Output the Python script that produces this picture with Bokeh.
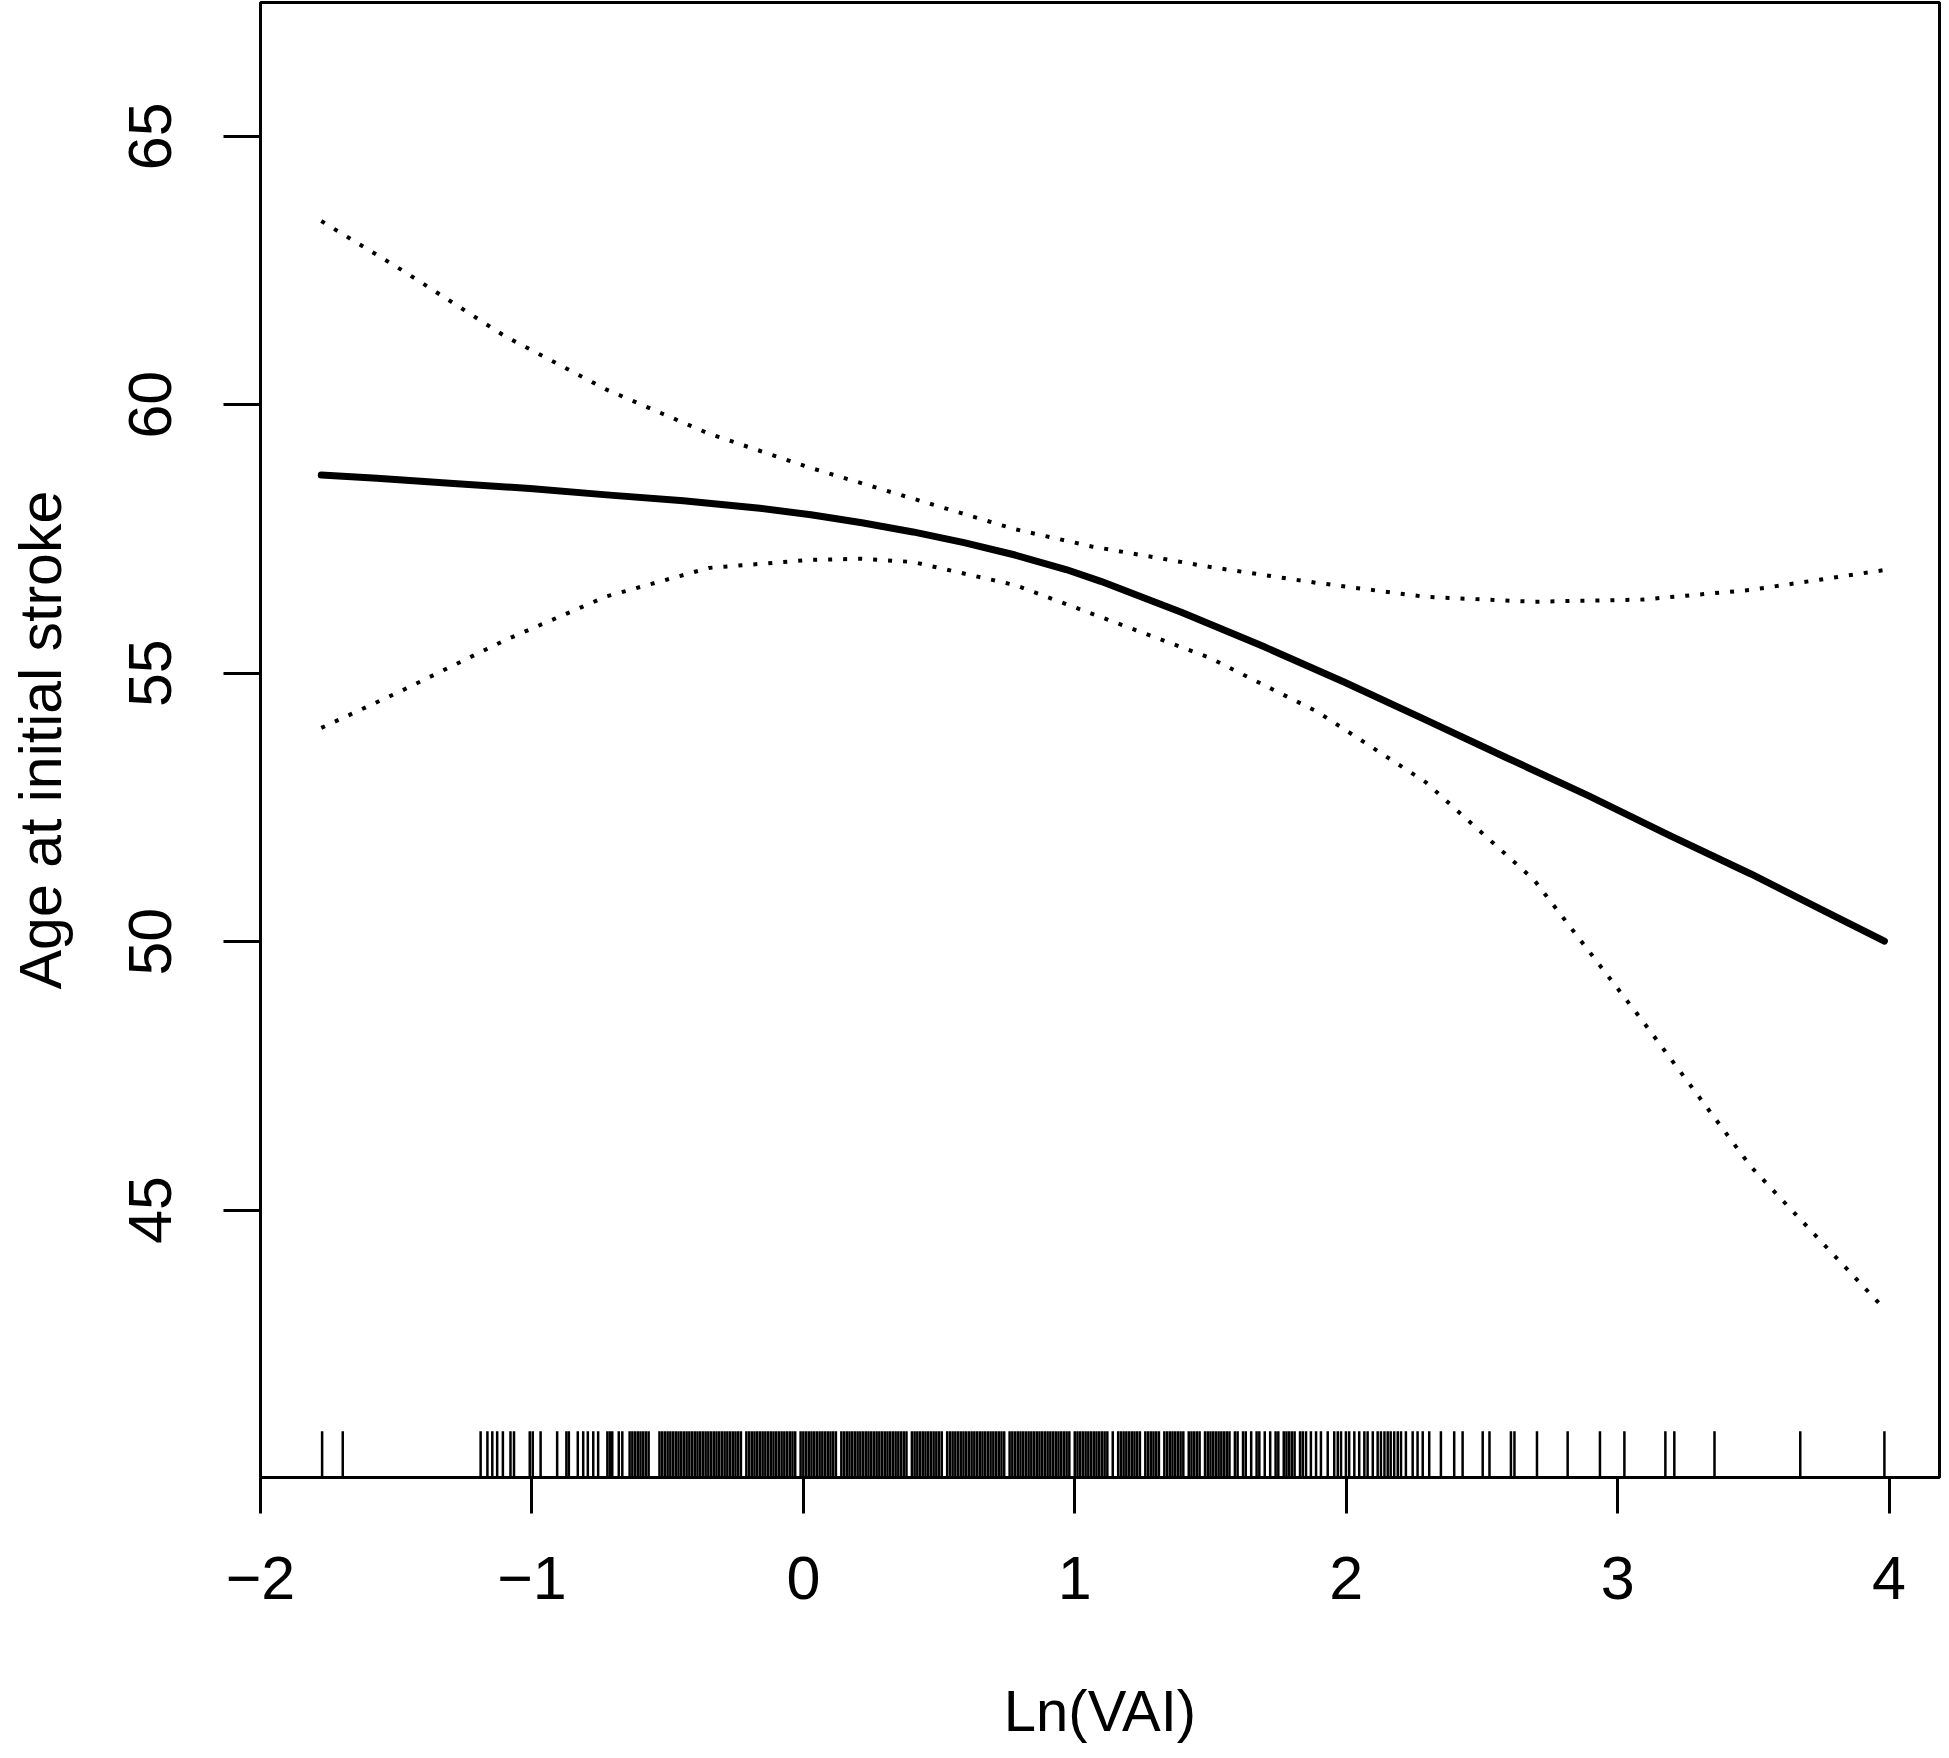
from bokeh.plotting import figure
from bokeh.models import Range1d, FixedTicker
from bokeh.embed import file_html
from bokeh.resources import INLINE

# ---------------- data ----------------
X_TICKS = [-2, -1, 0, 1, 2, 3, 4]
X_TICK_LABELS = ["\u22122", "\u22121", "0", "1", "2", "3", "4"]
Y_TICKS = [45, 50, 55, 60, 65]
Y_TICK_LABELS = ["45", "50", "55", "60", "65"]

X_LABEL = "Ln(VAI)"
Y_LABEL = "Age at initial stroke"

fit_x = [-1.776, -1.571, -1.289, -1.007, -0.725, -0.442, -0.160, 0.028, 0.216, 0.404,
         0.592, 0.780, 0.968, 1.096, 1.395, 1.694, 1.994, 2.293, 2.593, 2.892,
         3.191, 3.491, 3.790, 3.983]
fit_y = [58.69, 58.63, 58.53, 58.44, 58.32, 58.21, 58.07, 57.95, 57.80, 57.63,
         57.43, 57.20, 56.93, 56.71, 56.13, 55.50, 54.83, 54.13, 53.42, 52.72,
         51.98, 51.26, 50.50, 50.01]

upper_x = [-1.776, -1.477, -1.101, -0.725, -0.348, 0.028, 0.404, 0.780, 1.062, 1.495,
           1.894, 2.293, 2.692, 3.091, 3.491, 3.983]
upper_y = [63.42, 62.50, 61.28, 60.28, 59.46, 58.82, 58.25, 57.68, 57.36, 56.98,
           56.68, 56.42, 56.33, 56.37, 56.55, 56.92]

lower_x = [-1.776, -1.477, -1.101, -0.725, -0.348, 0.028, 0.216, 0.404, 0.780, 1.062,
           1.495, 1.894, 2.293, 2.692, 3.091, 3.491, 3.983]
lower_y = [53.98, 54.68, 55.61, 56.43, 56.96, 57.11, 57.13, 57.07, 56.64, 56.11,
           55.29, 54.28, 52.97, 51.15, 48.53, 45.81, 43.16]

rug_x = [
    -1.773, -1.697,
    -1.189, -1.164, -1.146, -1.128, -1.107, -1.079, -1.066, -1.008, -0.997, -0.968,
    -0.907, -0.873, -0.864, -0.831, -0.811, -0.794, -0.774, -0.756, -0.722, -0.713,
    -0.704, -0.680, -0.667,
    -0.64, -0.63, -0.62, -0.61, -0.60, -0.59, -0.58, -0.57,
    -0.53, -0.52, -0.51, -0.50, -0.49, -0.48, -0.47, -0.46, -0.45, -0.44, -0.43,
    -0.42, -0.41, -0.40, -0.39,
    -0.38, -0.37, -0.36, -0.35, -0.34, -0.33, -0.32, -0.31, -0.30,
    -0.29, -0.28, -0.27, -0.26, -0.25, -0.24, -0.23, -0.21, -0.20,
    -0.19, -0.18, -0.17, -0.16, -0.15, -0.14, -0.13, -0.12, -0.11, -0.10,
    -0.09, -0.08, -0.07, -0.06, -0.05, -0.04, -0.03, -0.01, 0.00,
    0.01, 0.02, 0.03, 0.04, 0.05, 0.06, 0.07, 0.08, 0.09, 0.10,
    0.11, 0.12, 0.14, 0.15, 0.16, 0.17, 0.18, 0.19, 0.20,
    0.21, 0.22, 0.23, 0.24, 0.25, 0.26, 0.27, 0.28, 0.29, 0.30,
    0.31, 0.32, 0.33, 0.34, 0.35, 0.36, 0.37, 0.38, 0.40,
    0.41, 0.42, 0.43, 0.44, 0.45, 0.46, 0.47, 0.48, 0.49, 0.50,
    0.51, 0.53, 0.54, 0.55, 0.56, 0.57, 0.58, 0.59, 0.60,
    0.61, 0.62, 0.63, 0.64, 0.65, 0.66, 0.67, 0.68, 0.69, 0.70,
    0.71, 0.72, 0.73, 0.74, 0.76, 0.77, 0.78, 0.79, 0.80,
    0.81, 0.82, 0.83, 0.84, 0.85, 0.86, 0.87, 0.88, 0.89, 0.90,
    0.91, 0.92, 0.93, 0.94, 0.95, 0.96, 0.97, 0.98, 1.00,
    1.01, 1.02, 1.03, 1.04, 1.05, 1.06, 1.07, 1.08, 1.09, 1.10,
    1.11, 1.12, 1.14, 1.16, 1.17, 1.18, 1.19, 1.20,
    1.21, 1.22, 1.23, 1.24, 1.26, 1.27, 1.28, 1.29, 1.30,
    1.31, 1.33, 1.34, 1.35, 1.36, 1.37, 1.38, 1.39, 1.40,
    1.42, 1.43, 1.44, 1.45, 1.46, 1.48, 1.49, 1.50,
    1.51, 1.52, 1.53, 1.54, 1.55, 1.56,
    1.57, 1.59, 1.60, 1.62, 1.63, 1.65, 1.67, 1.68, 1.70, 1.72, 1.74, 1.75,
    1.77, 1.78, 1.79, 1.80, 1.81, 1.83,
    1.840, 1.852, 1.870, 1.889, 1.907, 1.932, 1.956, 1.969, 1.981, 1.999,
    2.011, 2.030, 2.048, 2.067, 2.079, 2.098, 2.116, 2.128, 2.141, 2.153,
    2.164, 2.177, 2.190, 2.202, 2.220, 2.245, 2.263, 2.282, 2.306, 2.349,
    2.398, 2.429, 2.503, 2.528, 2.607, 2.620, 2.703, 2.816, 2.935, 3.025,
    3.176, 3.209, 3.357, 3.673, 3.983,
]

# ---------------- layout / style ----------------
X_START, X_END = -2.0, 4.186
Y_START, Y_END = 40.02, 67.49
RUG_LEN = 0.86          # rug tick length in y units (about 3% of the plot height)
FONT = "Liberation Sans"

p = figure(width=1941, height=1750, output_backend="svg", toolbar_location=None,
           x_range=Range1d(X_START, X_END), y_range=Range1d(Y_START, Y_END),
           min_border_left=260, min_border_right=2, min_border_top=2,
           min_border_bottom=273, background_fill_color="white",
           border_fill_color="white")

p.grid.visible = False
p.outline_line_color = "black"
p.outline_line_width = 3

# x axis
xa = p.xaxis[0]
xa.ticker = FixedTicker(ticks=X_TICKS)
xa.major_label_overrides = {t: s for t, s in zip(X_TICKS, X_TICK_LABELS)}
xa.bounds = (X_TICKS[0], X_TICKS[-1])
xa.axis_line_width = 3
xa.major_tick_line_width = 3
xa.major_tick_out = 36
xa.major_tick_in = 0
xa.minor_tick_line_color = None
xa.major_label_text_font = FONT
xa.major_label_text_font_size = "61px"
xa.major_label_text_color = "black"
xa.major_label_standoff = 43
xa.axis_label = X_LABEL
xa.axis_label_text_font = FONT
xa.axis_label_text_font_style = "normal"
xa.axis_label_text_font_size = "58px"
xa.axis_label_text_color = "black"
xa.axis_label_standoff = 76

# y axis
ya = p.yaxis[0]
ya.ticker = FixedTicker(ticks=Y_TICKS)
ya.major_label_overrides = {t: s for t, s in zip(Y_TICKS, Y_TICK_LABELS)}
ya.bounds = (Y_TICKS[0], Y_TICKS[-1])
ya.axis_line_width = 3
ya.major_tick_line_width = 3
ya.major_tick_out = 37
ya.major_tick_in = 0
ya.minor_tick_line_color = None
ya.major_label_orientation = "vertical"
ya.major_label_text_font = FONT
ya.major_label_text_font_size = "61px"
ya.major_label_text_color = "black"
ya.major_label_standoff = 52
ya.axis_label = Y_LABEL
ya.axis_label_text_font = FONT
ya.axis_label_text_font_style = "normal"
ya.axis_label_text_font_size = "59px"
ya.axis_label_text_color = "black"
ya.axis_label_standoff = 53

# rug
p.segment(x0=rug_x, y0=[Y_START] * len(rug_x), x1=rug_x,
          y1=[Y_START + RUG_LEN] * len(rug_x), line_color="black", line_width=2.5)

# confidence bounds (dotted) and fitted curve
p.line(upper_x, upper_y, line_color="black", line_width=4, line_dash="4 11")
p.line(lower_x, lower_y, line_color="black", line_width=4, line_dash="4 11")
p.line(fit_x, fit_y, line_color="black", line_width=7, line_join="round",
       line_cap="round")

open("out.html", "w").write(file_html(p, INLINE))
